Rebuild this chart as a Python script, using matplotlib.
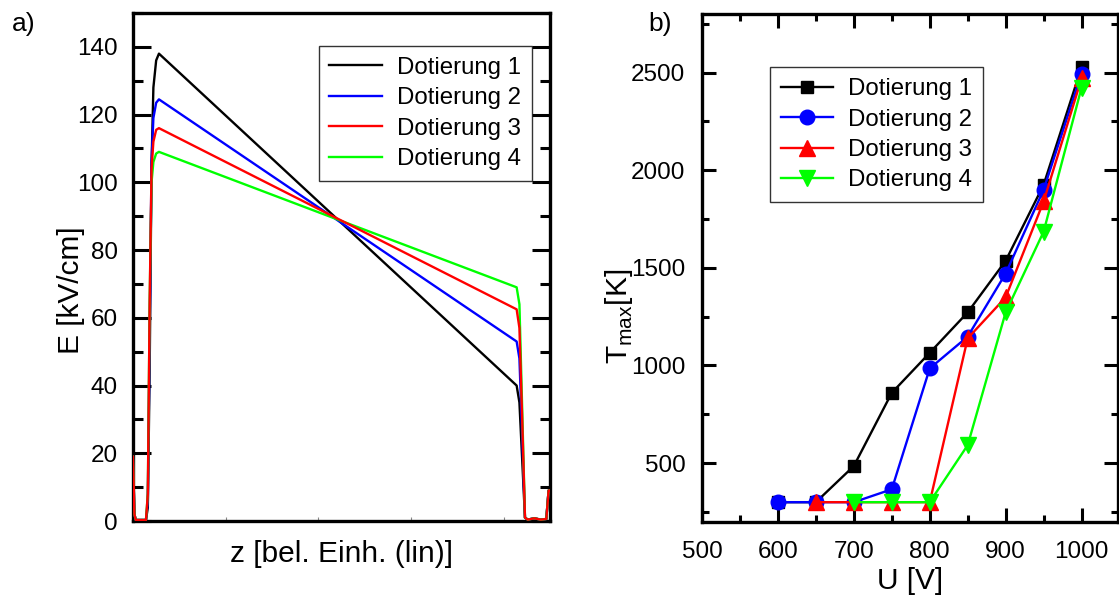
import numpy as np
import matplotlib
matplotlib.use("Agg")
import matplotlib.pyplot as plt
from matplotlib.ticker import MultipleLocator

plt.rcParams['font.family'] = ['Liberation Sans', 'DejaVu Sans']

# --- a) field profile, z in arbitrary units (0..4.5)
z = [0, 0.015, 0.03, 0.14, 0.16, 0.18, 0.20, 0.22, 0.25, 0.28,
     4.14, 4.17, 4.20, 4.23, 4.26, 4.33, 4.40, 4.46, 4.485, 4.5]
E1 = [19, 2, 0.3, 0.3, 4, 45, 105, 128, 136, 138,
      40, 35, 18, 1, 0.4, 0.8, 0.4, 0.6, 9, 9]
E2 = [19, 2, 0.3, 0.3, 6, 55, 106, 119, 123.5, 124.5,
      53, 48, 25, 1, 0.4, 0.8, 0.4, 0.6, 9, 9]
E3 = [19, 2, 0.3, 0.3, 8, 65, 104, 112, 115.5, 116,
      62.5, 57, 30, 1, 0.4, 0.8, 0.4, 0.6, 9, 9]
E4 = [19, 2, 0.3, 0.3, 8, 65, 100, 106, 108.5, 109,
      69, 64, 33, 1, 0.4, 0.8, 0.4, 0.6, 9, 9]

# --- b) T_max vs U
U1 = [600, 650, 700, 750, 800, 850, 900, 950, 1000]
T1 = [300, 300, 485, 860, 1065, 1272, 1536, 1925, 2528]
U2 = [600, 650, 700, 750, 800, 850, 900, 950, 1000]
T2 = [300, 300, 300, 366, 985, 1148, 1471, 1900, 2495]
U3 = [650, 700, 750, 800, 850, 900, 950, 1000]
T3 = [300, 300, 300, 300, 1139, 1349, 1840, 2470]
U4 = [700, 750, 800, 850, 900, 950, 1000]
T4 = [300, 300, 300, 592, 1272, 1685, 2423]

labels = ['Dotierung 1', 'Dotierung 2', 'Dotierung 3', 'Dotierung 4']
colors = ['black', 'blue', 'red', '#00ff00']

fig = plt.figure(figsize=(11.19, 5.98), dpi=100)
W, H = 1119, 598
ax1 = fig.add_axes([133 / W, (H - 521) / H, 417 / W, 508 / H])
ax2 = fig.add_axes([702 / W, (H - 521.7) / H, 416 / W, 507.7 / H])

tick_fs = 17.5
lab_fs = 21.5
leg_fs = 17.3
leg_kw = dict(borderaxespad=0, fontsize=leg_fs, frameon=True, fancybox=False,
              handlelength=2.2, handletextpad=0.62, labelspacing=0.35, borderpad=0.45)

# left panel
for E, c, lab in zip([E1, E2, E3, E4], colors, labels):
    ax1.plot(z, E, color=c, lw=1.7, label=lab, zorder=5 if c == 'red' else 3)
ax1.set_xlim(0, 4.5)
ax1.set_ylim(0, 150)
ax1.yaxis.set_major_locator(MultipleLocator(20))
ax1.yaxis.set_minor_locator(MultipleLocator(10))
ax1.set_xticks([1, 2, 3, 4])
ax1.set_xticklabels([])
ax1.tick_params(axis='x', direction='in', length=3, width=0.8, color='#888888')
ax1.tick_params(axis='y', which='major', direction='in', length=13, width=2.2,
                right=True, labelsize=tick_fs, pad=11)
ax1.tick_params(axis='y', which='minor', direction='in', length=7, width=2.2, right=True)
for s in ax1.spines.values():
    s.set_linewidth(2.4)
ax1.set_ylabel('E [kV/cm]', fontsize=lab_fs)
ax1.yaxis.set_label_coords(-0.115, 0.455)
ax1.set_xlabel('z [bel. Einh. (lin)]', fontsize=lab_fs, labelpad=10)
leg1 = ax1.legend(loc='upper right', bbox_to_anchor=(0.957, 0.935), **leg_kw)
leg1.get_frame().set_edgecolor('black')
leg1.get_frame().set_linewidth(1.0)

# right panel
styles = [('s', 9), ('o', 10.5), ('^', 12), ('v', 12)]
for (U, T), c, lab, (m, ms) in zip([(U1, T1), (U2, T2), (U3, T3), (U4, T4)],
                                    colors, labels, styles):
    ax2.plot(U, T, color=c, lw=1.7, marker=m, ms=ms, mec=c, label=lab)
ax2.set_xlim(500, 1048)
ax2.set_ylim(200, 2800)
ax2.xaxis.set_major_locator(MultipleLocator(100))
ax2.xaxis.set_minor_locator(MultipleLocator(50))
ax2.yaxis.set_major_locator(MultipleLocator(500))
ax2.yaxis.set_minor_locator(MultipleLocator(250))
ax2.tick_params(which='major', direction='in', length=10, width=2.2,
                top=True, right=True, labelsize=tick_fs)
ax2.tick_params(axis='x', which='major', pad=14)
ax2.tick_params(axis='y', which='major', pad=12)
ax2.tick_params(which='minor', direction='in', length=5, width=2.2, top=True, right=True)
ax2.set_yticks([500, 1000, 1500, 2000, 2500])
for s in ax2.spines.values():
    s.set_linewidth(2.4)
ax2.set_ylabel('T$_{\\mathregular{max}}$[K]', fontsize=lab_fs)
ax2.yaxis.set_label_coords(-0.161, 0.405)
ax2.set_xlabel('U [V]', fontsize=lab_fs, labelpad=3)
leg2 = ax2.legend(loc='upper left', bbox_to_anchor=(0.163, 0.895), **leg_kw)
leg2.get_frame().set_edgecolor('black')
leg2.get_frame().set_linewidth(1.0)

fig.text(12 / W, 1 - 24 / H, 'a)', fontsize=19, va='center', ha='left')
fig.text(648 / W, 1 - 24 / H, 'b)', fontsize=19, va='center', ha='left')

fig.savefig('out.png', dpi=100)
